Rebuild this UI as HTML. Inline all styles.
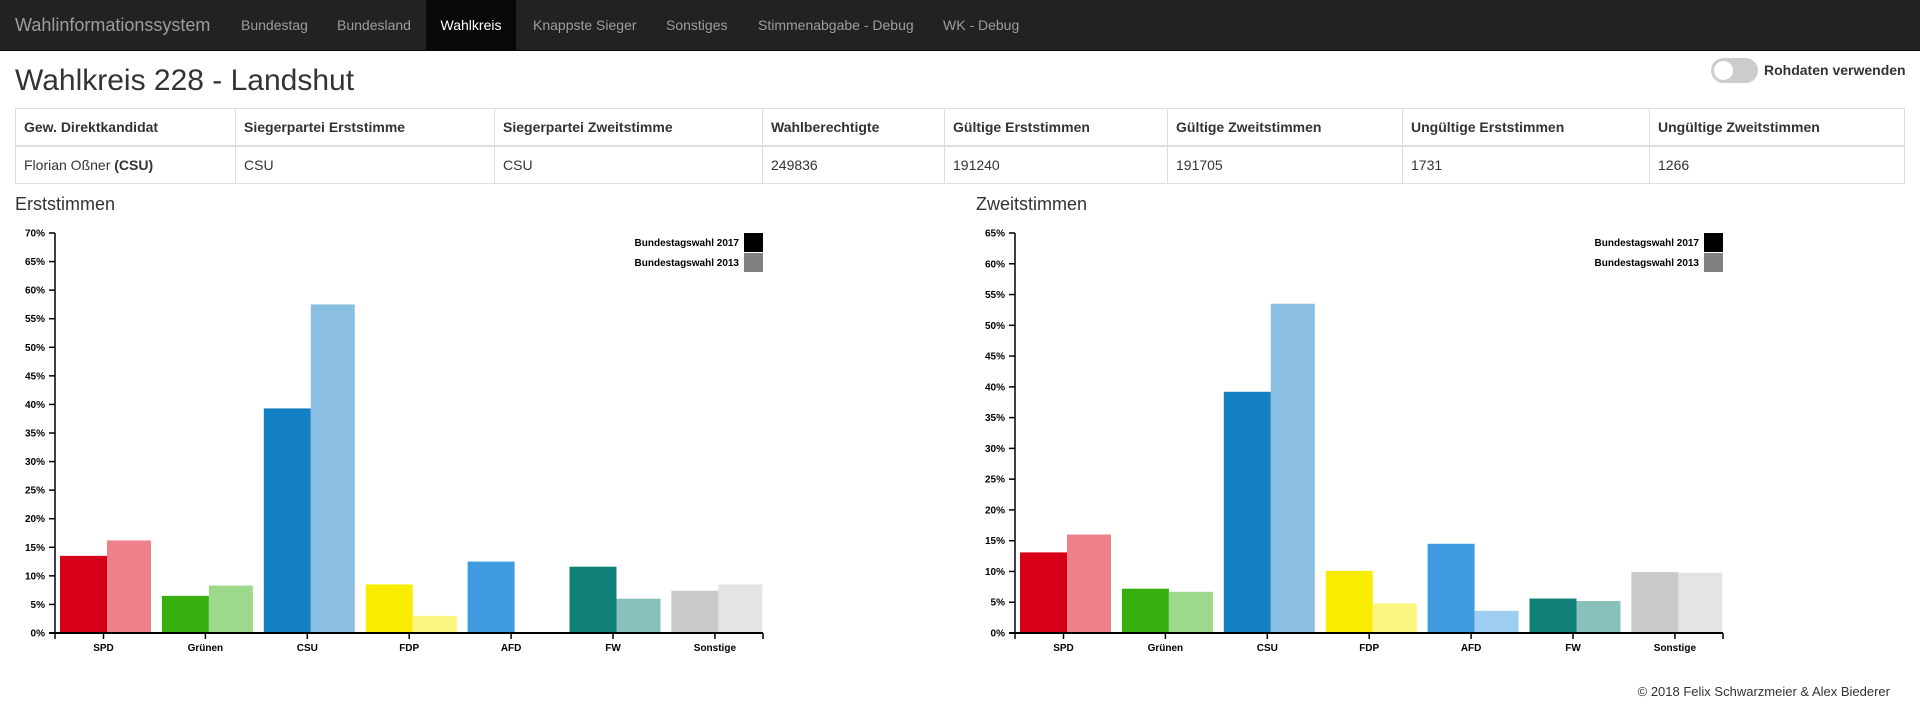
<!DOCTYPE html>
<html><head><meta charset="utf-8"><style>
body{margin:0;width:1920px;height:712px;overflow:hidden;background:#fff;font-family:"Liberation Sans",sans-serif;color:#333;position:relative}
.nav{position:absolute;left:0;top:0;width:1920px;height:50px;background:#222;border-bottom:1px solid #080808}
.nav span{position:absolute;top:0;line-height:50px;font-size:14px;color:#9d9d9d}
.nav .brand{font-size:18px;left:15px}
.nav .active{background:#080808;color:#fff;text-align:center}
h1{position:absolute;left:15px;top:64px;margin:0;font-size:30px;font-weight:400;color:#333}
.toggle{position:absolute;left:1711px;top:58px;width:47px;height:25px;border-radius:13px;background:#ccc}
.toggle::after{content:"";position:absolute;left:3px;top:3px;width:19px;height:19px;border-radius:50%;background:#fff}
.tlabel{position:absolute;left:1764px;top:62px;font-size:14px;font-weight:bold;color:#333}
table{position:absolute;left:15px;top:108px;width:1890px;border-collapse:collapse;font-size:14px}
td,th{border:1px solid #ddd;padding:0 8px;text-align:left;height:36px}
th{border-bottom:2px solid #ddd}
.ct{position:absolute;top:194px;font-size:18px;color:#333}
.foot{position:absolute;right:30px;top:684px;font-size:13px;color:#333}
svg{position:absolute;top:200px}
svg text{font-family:"Liberation Sans",sans-serif;font-size:10px;font-weight:bold;fill:#000}
</style></head><body>
<div class="nav">
<span class="brand">Wahlinformationssystem</span>
<span style="left:241px">Bundestag</span>
<span style="left:337px">Bundesland</span>
<span class="active" style="left:426px;width:90px">Wahlkreis</span>
<span style="left:533px">Knappste Sieger</span>
<span style="left:666px">Sonstiges</span>
<span style="left:758px">Stimmenabgabe - Debug</span>
<span style="left:943px">WK - Debug</span>
</div>
<h1>Wahlkreis 228 - Landshut</h1>
<div class="toggle"></div>
<div class="tlabel">Rohdaten verwenden</div>
<table>
<tr><th style="width:203px">Gew. Direktkandidat</th><th style="width:242px">Siegerpartei Erststimme</th><th style="width:251px">Siegerpartei Zweitstimme</th><th style="width:165px">Wahlberechtigte</th><th style="width:206px">Gültige Erststimmen</th><th style="width:218px">Gültige Zweitstimmen</th><th style="width:230px">Ungültige Erststimmen</th><th>Ungültige Zweitstimmen</th></tr>
<tr><td>Florian Oßner <b>(CSU)</b></td><td>CSU</td><td>CSU</td><td>249836</td><td>191240</td><td>191705</td><td>1731</td><td>1266</td></tr>
</table>
<div class="ct" style="left:15px">Erststimmen</div>
<div class="ct" style="left:976px">Zweitstimmen</div>
<svg id="c1" width="960" height="480" style="left:0"></svg>
<svg id="c2" width="960" height="480" style="left:960px"></svg>
<div class="foot">© 2018 Felix Schwarzmeier &amp; Alex Biederer</div>
<script>
const parties = ["SPD","Grünen","CSU","FDP","AFD","FW","Sonstige"];
const colors2017 = ["#d80019","#37b00f","#1380c6","#f8ec00","#3e9be0","#118078","#c9c9c9"];
const colors2013 = ["#ee8089","#9cd98a","#8bbfe1","#fbf580","#9dcdf0","#88c0bb","#e4e4e4"];
const erst2017 = [13.5,6.5,39.3,8.5,12.5,11.6,7.4];
const erst2013 = [16.2,8.3,57.5,3.0,0,6.0,8.5];
const zweit2017 = [13.1,7.2,39.2,10.1,14.5,5.6,9.9];
const zweit2013 = [16.0,6.7,53.5,4.8,3.6,5.2,9.8];
const erstTicks = [0,5,10,15,20,25,30,35,40,45,50,55,60,65,70];
const zweitTicks = [0,5,10,15,20,25,30,35,40,45,50,55,60,65];
const NS="http://www.w3.org/2000/svg";
function mk(svg,tag,at){const e=document.createElementNS(NS,tag);for(const k in at)e.setAttribute(k,at[k]);svg.appendChild(e);return e;}
function draw(id,v17,v13,ticks,prefix){
  const svg=document.getElementById(id);
  const x0=55,x1=763,y0=433,y1=33,max=ticks[ticks.length-1];
  const y=v=>y0-(v/max)*(y0-y1);
  const bx=i=>60+i*101.9;
  parties.forEach((p,i)=>{
    let r=mk(svg,'rect',{x:bx(i),y:y(v17[i]),width:47,height:y0-y(v17[i]),fill:colors2017[i]});
    
    
    r=mk(svg,'rect',{x:bx(i)+47,y:y(v13[i]),width:44,height:y0-y(v13[i]),fill:colors2013[i]});
    
    
    const cx=bx(i)+43.5;
    mk(svg,'line',{x1:cx,x2:cx,y1:y0,y2:y0+6,stroke:'#000','stroke-width':1.5});
    const t=mk(svg,'text',{x:cx,y:y0+18,'text-anchor':'middle'});t.textContent=p;
    
    
  });
  ticks.forEach(v=>{
    mk(svg,'line',{x1:x0-6,x2:x0,y1:y(v),y2:y(v),stroke:'#000','stroke-width':1.5});
    const t=mk(svg,'text',{x:x0-10,y:y(v)+3.5,'text-anchor':'end','font-size':'9'});t.textContent=v+'%';
    
    
  });
  mk(svg,'line',{x1:x0,x2:x0,y1:y1,y2:y0,stroke:'#000','stroke-width':1.5});
  mk(svg,'line',{x1:x0-6,x2:x1,y1:y0,y2:y0,stroke:'#000','stroke-width':2});
  mk(svg,'line',{x1:x1,x2:x1,y1:y0,y2:y0+6,stroke:'#000','stroke-width':1.5});
  mk(svg,'line',{x1:x0,x2:x0,y1:y0,y2:y0+6,stroke:'#000','stroke-width':1.5});
  [['Bundestagswahl 2017','#000'],['Bundestagswahl 2013','#808080']].forEach((l,k)=>{
    mk(svg,'rect',{x:744,y:33+k*20,width:19,height:19,fill:l[1]});
    const t=mk(svg,'text',{x:739,y:46+k*20,'text-anchor':'end','font-size':'9'});t.textContent=l[0];
    
    
  });
}
draw('c1',erst2017,erst2013,erstTicks,'erst');
draw('c2',zweit2017,zweit2013,zweitTicks,'zweit');
</script>
</body></html>
